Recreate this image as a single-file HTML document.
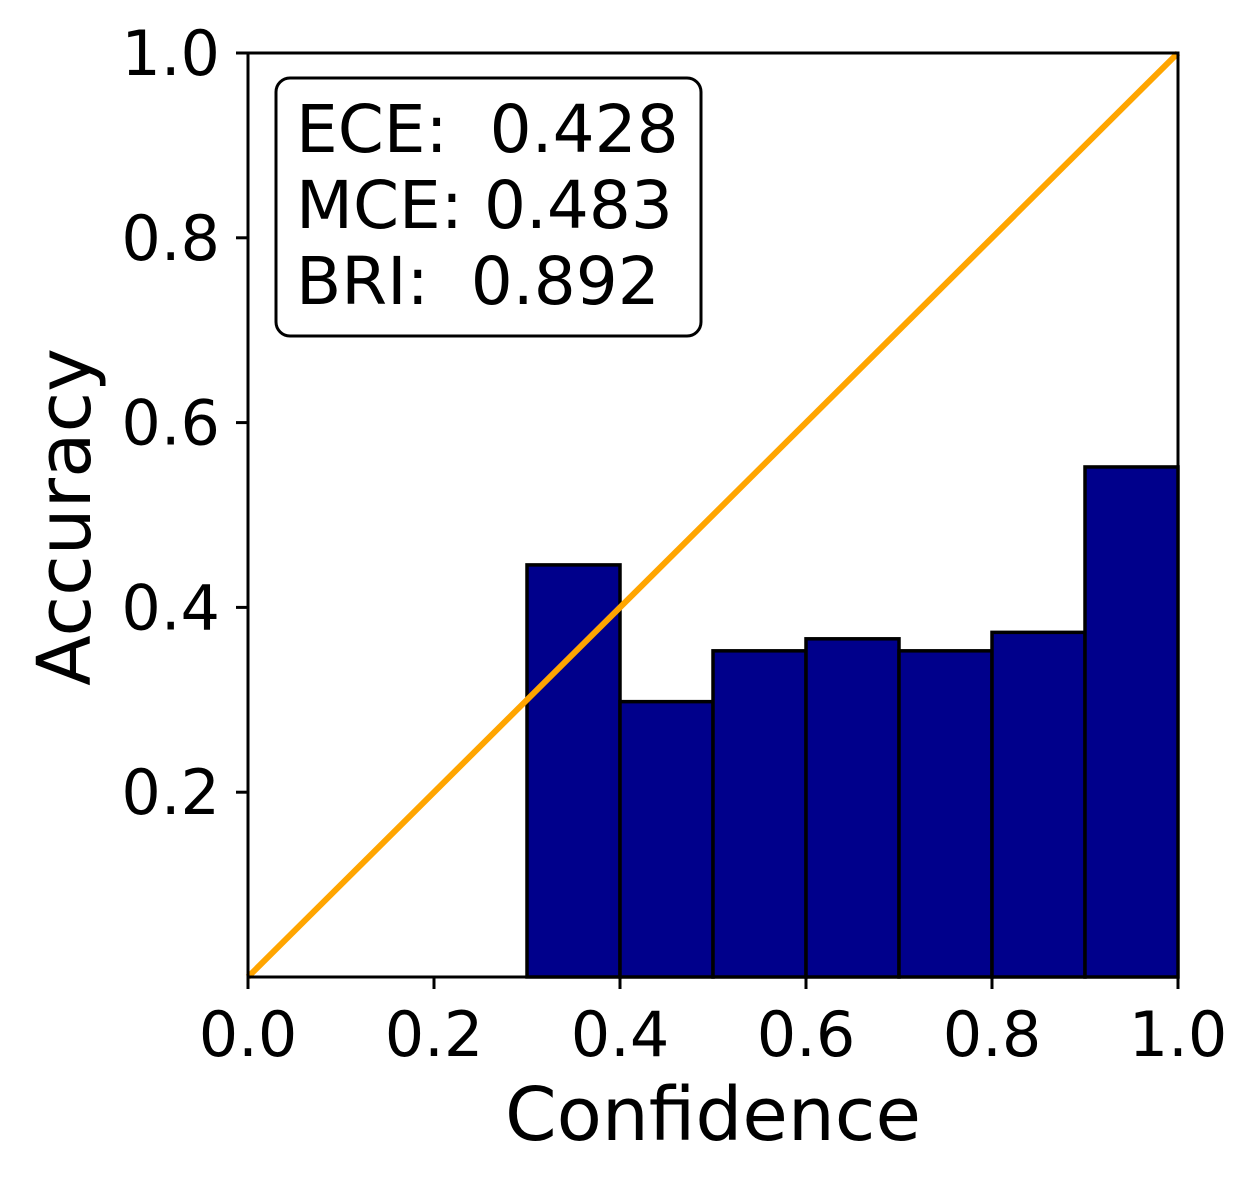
<!DOCTYPE html>
<html><head><meta charset="utf-8"><style>
html,body{margin:0;padding:0;background:#fff;}
svg{display:block;font-family:"DejaVu Sans","Liberation Sans",sans-serif;}
</style></head><body>
<svg id="chart" width="1257" height="1186" viewBox="0 0 1257 1186">
<rect x="0" y="0" width="1257" height="1186" fill="#fff"/>
<g id="bars"></g>
<line id="diag" stroke="#FFA500" stroke-width="6"/>
<rect x="248" y="53" width="930" height="924" fill="none" stroke="#000" stroke-width="3"/>
<g id="xt"></g>
<g id="yt"></g>
<text x="713" y="1140" font-size="74" text-anchor="middle">Confidence</text>
<text transform="translate(90,517) rotate(-90)" font-size="74" text-anchor="middle">Accuracy</text>
<g>
<rect x="276" y="78" width="425" height="258" rx="14" fill="#fff" stroke="#000" stroke-width="3"/>
<text x="296" y="152" font-size="66" xml:space="preserve">ECE:  0.428</text>
<text x="296" y="228" font-size="66">MCE: 0.483</text>
<text x="296" y="304" font-size="66" xml:space="preserve">BRI:  0.892</text>
</g>
</svg>
<script>
const binStarts=[0.3,0.4,0.5,0.6,0.7,0.8,0.9];
const accuracy=[0.446,0.298,0.353,0.366,0.353,0.373,0.552];
const tickLabels=["0.0","0.2","0.4","0.6","0.8","1.0"];
const tickValues=[0,0.2,0.4,0.6,0.8,1.0];
const yTickValues=[0.2,0.4,0.6,0.8,1.0];
const yTickLabels=["0.2","0.4","0.6","0.8","1.0"];
const binWidth=0.1;
const NS="http://www.w3.org/2000/svg";
const L=248,R=1178,T=53,B=977;
const xs=v=>L+v*(R-L), ys=v=>B-v*(B-T);
const bg=document.getElementById('bars');
binStarts.forEach((s,i)=>{
 const r=document.createElementNS(NS,'rect');
 r.setAttribute('x',xs(s));r.setAttribute('y',ys(accuracy[i]));
 r.setAttribute('width',xs(s+binWidth)-xs(s));r.setAttribute('height',ys(0)-ys(accuracy[i]));
 r.setAttribute('fill','#00008B');r.setAttribute('stroke','#000');r.setAttribute('stroke-width','3.5');
 
 
 bg.appendChild(r);
});
const d=document.getElementById('diag');
d.setAttribute('x1',xs(0));d.setAttribute('y1',ys(0));d.setAttribute('x2',xs(1));d.setAttribute('y2',ys(1));
const xt=document.getElementById('xt');
tickValues.forEach((v,i)=>{
 const l=document.createElementNS(NS,'line');
 l.setAttribute('x1',xs(v));l.setAttribute('x2',xs(v));l.setAttribute('y1',B);l.setAttribute('y2',B+12);
 l.setAttribute('stroke','#000');l.setAttribute('stroke-width','3');
 
 
 xt.appendChild(l);
 const t=document.createElementNS(NS,'text');
 t.setAttribute('x',xs(v));t.setAttribute('y',1056);t.setAttribute('font-size','62');t.setAttribute('text-anchor','middle');
 t.textContent=tickLabels[i];
 
 
 xt.appendChild(t);
});
const yt=document.getElementById('yt');
yTickValues.forEach((v,i)=>{
 const l=document.createElementNS(NS,'line');
 l.setAttribute('x1',L-12);l.setAttribute('x2',L);l.setAttribute('y1',ys(v));l.setAttribute('y2',ys(v));
 l.setAttribute('stroke','#000');l.setAttribute('stroke-width','3');
 
 
 yt.appendChild(l);
 const t=document.createElementNS(NS,'text');
 t.setAttribute('x',L-28);t.setAttribute('y',ys(v)+22);t.setAttribute('font-size','62');t.setAttribute('text-anchor','end');
 t.textContent=yTickLabels[i];
 
 
 yt.appendChild(t);
});
</script>
</body></html>
